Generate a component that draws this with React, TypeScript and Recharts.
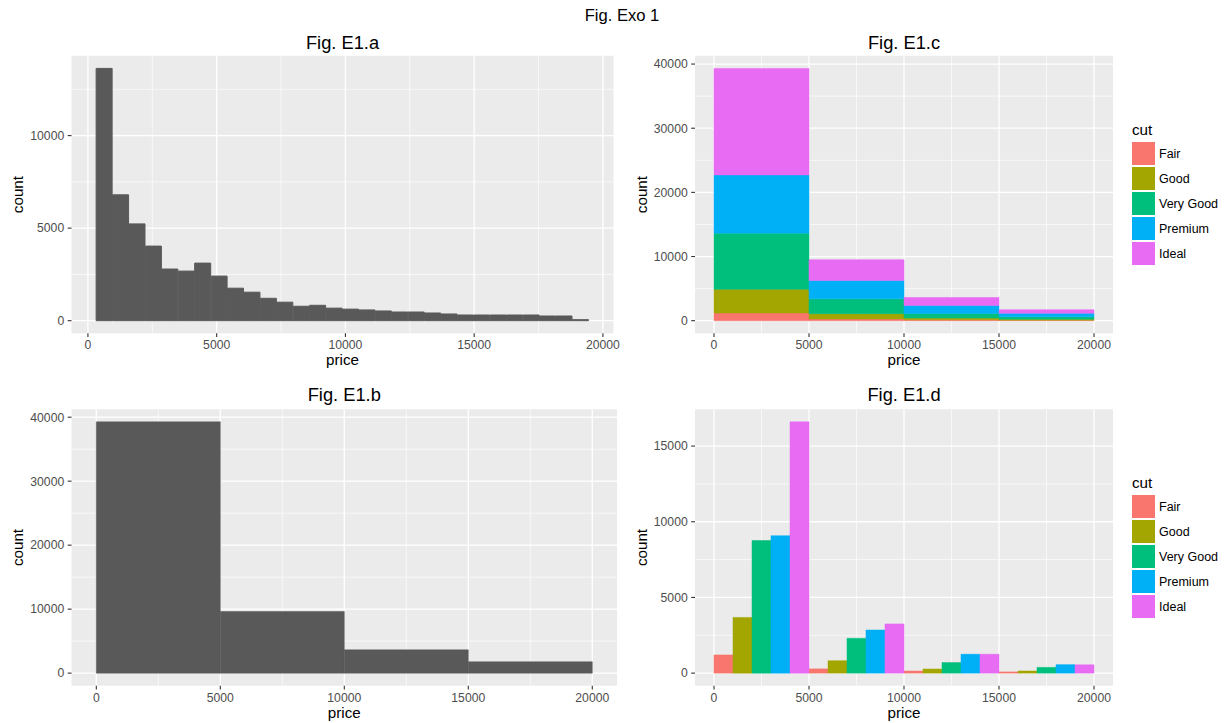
import React from 'react';
import { BarChart, Bar, XAxis, YAxis, CartesianGrid, Legend, Label } from 'recharts';

const FONT = '"Liberation Sans", Arial, Helvetica, sans-serif';

// ---------- Fig. E1.a : 30-bin histogram of price ----------
const binCentersA = [
  637.83, 1275.66, 1913.48, 2551.31, 3189.14, 3826.97, 4464.79, 5102.62, 5740.45, 6378.28,
  7016.10, 7653.93, 8291.76, 8929.59, 9567.41, 10205.24, 10843.07, 11480.90, 12118.72, 12756.55,
  13394.38, 14032.21, 14670.03, 15307.86, 15945.69, 16583.52, 17221.34, 17859.17, 18497.00, 19134.83,
];
const countsA = [
  13630, 6800, 5230, 4030, 2790, 2680, 3110, 2410, 1755, 1540,
  1210, 1000, 780, 832, 678, 624, 580, 525, 470, 470,
  416, 362, 307, 307, 307, 307, 307, 253, 253, 55,
];
const priceRangeA = [318.91, 19453.74];

// ---------- 4 bins of width 5000 (Fig. E1.b, E1.c, E1.d) ----------
const binCenters4 = [2500, 7500, 12500, 17500];
const priceRange4 = [0, 20000];
const countsB = [39270, 9630, 3640, 1770];

const cuts = ['Fair', 'Good', 'Very Good', 'Premium', 'Ideal'];
const cutColors = ['#F8766D', '#A3A500', '#00BF7D', '#00B0F6', '#E76BF3'];
const fair = [1200, 280, 140, 80];
const good = [3680, 820, 270, 140];
const veryGood = [8760, 2300, 700, 380];
const premium = [9080, 2850, 1250, 560];
const ideal = [16600, 3250, 1250, 550];
const cutSeries = [fair, good, veryGood, premium, ideal];

// ---------- ticks ----------
const xTicks = [0, 5000, 10000, 15000, 20000];
const xMinor = [2500, 7500, 12500, 17500];
const yTicksA = [0, 5000, 10000];
const yMinorA = [2500, 7500, 12500];
const yTicks40k = [0, 10000, 20000, 30000, 40000];
const yMinor40k = [5000, 15000, 25000, 35000];
const yTicksD = [0, 5000, 10000, 15000];
const yMinorD = [2500, 7500, 12500];

// ---------- tables built from the arrays ----------
const dataA = binCentersA.map((x, i) => ({ x, count: countsA[i] }));
const dataB = binCenters4.map((x, i) => ({ x, count: countsB[i] }));
const dataCut = binCenters4.map((x, i) => {
  const row: any = { x };
  cuts.forEach((c, j) => { row[c] = cutSeries[j][i]; });
  return row;
});

const expand = (r: number[]) => {
  const d = (r[1] - r[0]) * 0.05;
  return [r[0] - d, r[1] + d];
};
const maxA = Math.max(...countsA);
const maxB = Math.max(...countsB);
const maxC = Math.max(...binCenters4.map((_, i) => cutSeries.reduce((s, a) => s + a[i], 0)));
const maxD = Math.max(...cutSeries.map((a) => Math.max(...a)));

const tickStyle = { fontSize: 12.2, fill: '#4D4D4D', fontFamily: FONT };
const tickLineStyle = { stroke: '#333333', strokeWidth: 1.1 };

const XTitle = (props: any) => {
  const vb = props.viewBox || {};
  return (
    <text x={vb.x + vb.width / 2} y={vb.y + 32} textAnchor="middle" fontSize={15.2} fontFamily={FONT} fill="#000000">
      price
    </text>
  );
};

const YTitle = (props: any) => {
  const vb = props.viewBox || {};
  const x = vb.x + vb.width - 48.5;
  const y = vb.y + vb.height / 2;
  return (
    <text x={x} y={y} transform={`rotate(-90 ${x} ${y})`} textAnchor="middle" fontSize={15.2} fontFamily={FONT} fill="#000000">
      count
    </text>
  );
};

const LEGEND_W = 113;

const CutLegend = () => (
  <div style={{ width: LEGEND_W, paddingLeft: 19, boxSizing: 'border-box', fontFamily: FONT }}>
    <div style={{ height: 23, lineHeight: '23px', fontSize: 15.2, color: '#000' }}>cut</div>
    {cuts.map((c, i) => (
      <div key={c} style={{ display: 'flex', alignItems: 'center', height: 25 }}>
        <div style={{ width: 23, height: 23, background: cutColors[i] }} />
        <span style={{ marginLeft: 4, fontSize: 12.5, color: '#000', whiteSpace: 'nowrap' }}>{c}</span>
      </div>
    ))}
  </div>
);

type PanelProps = {
  left: number;
  top: number;
  width: number;
  height: number;
  marginTop: number;
  marginRight: number;
  yAxisWidth: number;
  data: any[];
  xDomain: number[];
  yDomain: number[];
  yTicks: number[];
  yMinor: number[];
  legend?: boolean;
  legendTop?: number;
  children: React.ReactNode;
};

const Panel = (p: PanelProps) => (
  <div style={{ position: 'absolute', left: p.left, top: p.top }}>
    <BarChart
      width={p.width}
      height={p.height}
      data={p.data}
      margin={{ top: p.marginTop, right: p.marginRight, bottom: 0, left: 0 }}
      barCategoryGap={0}
      barGap={0}
    >
      <CartesianGrid fill="#EBEBEB" stroke="#FFFFFF" strokeWidth={0.65} horizontalValues={p.yMinor} verticalValues={xMinor} />
      <CartesianGrid stroke="#FFFFFF" strokeWidth={1.3} horizontalValues={p.yTicks} verticalValues={xTicks} />
      <XAxis
        dataKey="x"
        type="number"
        domain={p.xDomain}
        ticks={xTicks}
        interval={0}
        height={45}
        tick={tickStyle}
        tickSize={3.8}
        tickMargin={3.6}
        tickLine={tickLineStyle}
        axisLine={false}
        label={<Label content={XTitle} />}
      />
      <YAxis
        type="number"
        domain={p.yDomain}
        ticks={p.yTicks}
        interval={0}
        width={p.yAxisWidth}
        tick={tickStyle}
        tickSize={3.8}
        tickMargin={3.5}
        tickLine={tickLineStyle}
        axisLine={false}
        label={<Label content={YTitle} />}
      />
      {p.children}
      {p.legend ? (
        <Legend
          layout="vertical"
          align="right"
          verticalAlign="top"
          width={LEGEND_W}
          wrapperStyle={{ top: p.legendTop, right: 0 }}
          content={CutLegend}
        />
      ) : null}
    </BarChart>
  </div>
);

export default function App() {
  return (
    <div style={{ position: 'absolute', left: 0, top: 0, width: 1226, height: 723, background: '#FFFFFF', fontFamily: FONT }}>
      <svg width={1226} height={723} style={{ position: 'absolute', left: 0, top: 0 }}>
        <text x={622} y={20.7} textAnchor="middle" fontSize={16.6} fontFamily={FONT} fill="#000">Fig. Exo 1</text>
        <text x={342.5} y={48.7} textAnchor="middle" fontSize={18.3} fontFamily={FONT} fill="#000">Fig. E1.a</text>
        <text x={904} y={48.7} textAnchor="middle" fontSize={18.3} fontFamily={FONT} fill="#000">Fig. E1.c</text>
        <text x={344.3} y={400.7} textAnchor="middle" fontSize={18.3} fontFamily={FONT} fill="#000">Fig. E1.b</text>
        <text x={904} y={400.7} textAnchor="middle" fontSize={18.3} fontFamily={FONT} fill="#000">Fig. E1.d</text>
      </svg>

      {/* Fig. E1.a */}
      <Panel
        left={0} top={50} width={620} height={328.3} marginTop={5.8} marginRight={6.5} yAxisWidth={71.5}
        data={dataA} xDomain={expand(priceRangeA)} yDomain={expand([0, maxA])} yTicks={yTicksA} yMinor={yMinorA}
      >
        <Bar dataKey="count" fill="#595959" stroke="#595959" strokeWidth={1} isAnimationActive={false} />
      </Panel>

      {/* Fig. E1.b */}
      <Panel
        left={0} top={400} width={620} height={330.7} marginTop={9.3} marginRight={2.9} yAxisWidth={71.5}
        data={dataB} xDomain={expand(priceRange4)} yDomain={expand([0, maxB])} yTicks={yTicks40k} yMinor={yMinor40k}
      >
        <Bar dataKey="count" fill="#595959" stroke="#595959" strokeWidth={0.5} isAnimationActive={false} />
      </Panel>

      {/* Fig. E1.c */}
      <Panel
        left={620} top={50} width={606} height={328.3} marginTop={5.8} marginRight={0} yAxisWidth={75}
        data={dataCut} xDomain={expand(priceRange4)} yDomain={expand([0, maxC])} yTicks={yTicks40k} yMinor={yMinor40k}
        legend legendTop={68}
      >
        {cuts.map((c, i) => (
          <Bar key={c} dataKey={c} name={c} stackId="cut" fill={cutColors[i]} stroke={cutColors[i]} strokeWidth={0.5} isAnimationActive={false} />
        ))}
      </Panel>

      {/* Fig. E1.d */}
      <Panel
        left={620} top={400} width={606} height={330.7} marginTop={9.3} marginRight={0} yAxisWidth={75}
        data={dataCut} xDomain={expand(priceRange4)} yDomain={expand([0, maxD])} yTicks={yTicksD} yMinor={yMinorD}
        legend legendTop={71}
      >
        {cuts.map((c, i) => (
          <Bar key={c} dataKey={c} name={c} fill={cutColors[i]} stroke={cutColors[i]} strokeWidth={0.5} isAnimationActive={false} />
        ))}
      </Panel>
    </div>
  );
}
